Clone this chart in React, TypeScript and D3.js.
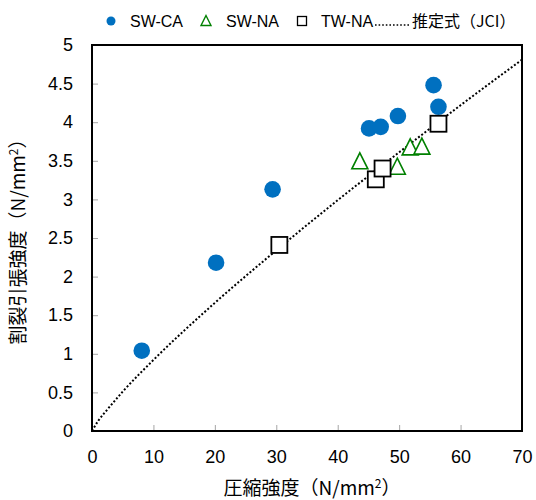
import React, { useEffect, useRef } from 'react';
import * as d3 from 'd3';

// SW-CA (filled blue circles)
const swcaX = [8.1, 20.2, 29.4, 45.1, 47.0, 49.8, 55.6, 56.4];
const swcaY = [1.04, 2.18, 3.13, 3.92, 3.94, 4.08, 4.48, 4.20];

// SW-NA (green triangles)
const swnaX = [43.6, 49.7, 51.8, 53.7];
const swnaY = [3.49, 3.42, 3.67, 3.68];

// TW-NA (open squares)
const twnaX = [30.5, 46.2, 47.3, 56.4];
const twnaY = [2.41, 3.26, 3.40, 3.98];

// 推定式(JCI) curve
const jciX = [0, 1, 2, 5, 10, 20, 30, 40, 50, 60, 70];
const jciY = [0, 0.13, 0.23, 0.51, 0.92, 1.66, 2.34, 2.99, 3.61, 4.22, 4.81];

const xTicks = [0, 10, 20, 30, 40, 50, 60, 70];
const yTicks = [0, 0.5, 1, 1.5, 2, 2.5, 3, 3.5, 4, 4.5, 5];
const yTickLabels = ['0', '0.5', '1', '1.5', '2', '2.5', '3', '3.5', '4', '4.5', '5'];

const legendLabels = ['SW-CA', 'SW-NA', 'TW-NA', '推定式（JCI）'];

const BLUE = '#0070C0';
const GREEN = '#008000';
const LATIN = '"Liberation Sans", Arial, "Noto Sans CJK JP", sans-serif';
const CJK = '"Noto Sans CJK JP", "Liberation Sans", sans-serif';

const triPath = (cx: number, cy: number, s: number) =>
  `M${cx},${cy - s * 0.55} L${cx + s / 2},${cy + s * 0.45} L${cx - s / 2},${cy + s * 0.45} Z`;

export default function App() {
  const ref = useRef<SVGSVGElement>(null);

  useEffect(() => {
    const svg = d3.select(ref.current);
    svg.selectAll('*').remove();

    const x = d3.scaleLinear().domain([0, 70]).range([92, 522]);
    const y = d3.scaleLinear().domain([0, 5]).range([431, 45]);

    svg.append('rect').attr('width', 536).attr('height', 500).attr('fill', 'white');

    // axes with inside ticks
    const xAxis = svg.append('g')
      .attr('transform', `translate(0,${y(0)})`)
      .call(d3.axisBottom(x).tickValues(xTicks).tickSize(-6).tickPadding(19).tickFormat(d => String(d)));
    const yAxis = svg.append('g')
      .attr('transform', `translate(${x(0)},0)`)
      .call(d3.axisLeft(y).tickValues(yTicks).tickSize(-6).tickPadding(19)
        .tickFormat((d, i) => yTickLabels[i]));

    [xAxis, yAxis].forEach(g => {
      g.select('.domain').remove();
      g.selectAll('.tick line').attr('stroke', '#a6a6a6').attr('stroke-width', 1);
      g.selectAll('.tick text')
        .attr('fill', '#000')
        .style('font-family', LATIN)
        .style('font-size', '18px');
    });

    // estimate curve (under the markers)
    const line = d3.line<number>()
      .x((d, i) => x(jciX[i]))
      .y(d => y(d))
      .curve(d3.curveMonotoneX);
    svg.append('path')
      .attr('d', line(jciY))
      .attr('fill', 'none')
      .attr('stroke', '#000')
      .attr('stroke-width', 2)
      .attr('stroke-dasharray', '2 2');

    // SW-CA
    svg.selectAll('swca')
      .data(swcaX)
      .enter()
      .append('circle')
      .attr('cx', d => x(d))
      .attr('cy', (d, i) => y(swcaY[i]))
      .attr('r', 8.3)
      .attr('fill', BLUE);

    // SW-NA
    svg.selectAll('swna')
      .data(swnaX)
      .enter()
      .append('path')
      .attr('d', (d, i) => triPath(x(d), y(swnaY[i]), 16))
      .attr('fill', 'white')
      .attr('stroke', GREEN)
      .attr('stroke-width', 1.6);

    // TW-NA
    svg.selectAll('twna')
      .data(twnaX)
      .enter()
      .append('rect')
      .attr('x', d => x(d) - 8)
      .attr('y', (d, i) => y(twnaY[i]) - 8)
      .attr('width', 16)
      .attr('height', 16)
      .attr('fill', 'white')
      .attr('stroke', '#000')
      .attr('stroke-width', 1.8);

    // plot frame
    svg.append('rect')
      .attr('x', x(0))
      .attr('y', y(5))
      .attr('width', x(70) - x(0))
      .attr('height', y(0) - y(5))
      .attr('fill', 'none')
      .attr('stroke', '#000')
      .attr('stroke-width', 2);

    // axis titles
    const xt = svg.append('text')
      .attr('x', 312)
      .attr('y', 495)
      .attr('text-anchor', 'middle')
      .style('font-family', CJK)
      .style('font-size', '19px');
    xt.append('tspan').text('圧縮強度（N/mm');
    xt.append('tspan').attr('dy', -7).style('font-size', '12px').text('2');
    xt.append('tspan').attr('dy', 7).text('）');

    const yt = svg.append('text')
      .attr('transform', 'translate(25,237) rotate(-90)')
      .attr('text-anchor', 'middle')
      .style('font-family', CJK)
      .style('font-size', '19px');
    yt.append('tspan').text('割裂引張強度（N/mm');
    yt.append('tspan').attr('dy', -7).style('font-size', '12px').text('2');
    yt.append('tspan').attr('dy', 7).text('）');

    // legend
    const lg = svg.append('g').style('font-family', LATIN).style('font-size', '16px');
    lg.append('circle').attr('cx', 111).attr('cy', 21).attr('r', 4.5).attr('fill', BLUE);
    lg.append('text').attr('x', 130).attr('y', 27).text(legendLabels[0]);
    lg.append('path').attr('d', triPath(206, 21, 10)).attr('fill', 'white').attr('stroke', GREEN).attr('stroke-width', 1.4);
    lg.append('text').attr('x', 226).attr('y', 27).text(legendLabels[1]);
    lg.append('rect').attr('x', 297.5).attr('y', 16.5).attr('width', 9).attr('height', 9)
      .attr('fill', 'white').attr('stroke', '#000').attr('stroke-width', 1.3);
    lg.append('text').attr('x', 321).attr('y', 27).text(legendLabels[2]);
    lg.append('line').attr('x1', 375).attr('x2', 411).attr('y1', 25).attr('y2', 25)
      .attr('stroke', '#000').attr('stroke-width', 1.6).attr('stroke-dasharray', '1.6 2');
    lg.append('text').attr('x', 412).attr('y', 27).style('font-family', CJK).text(legendLabels[3]);
  }, []);

  return (
    <div style={{ position: 'absolute', left: 0, top: 0 }}>
      <svg ref={ref} width={536} height={500} style={{ display: 'block' }}></svg>
    </div>
  );
}
